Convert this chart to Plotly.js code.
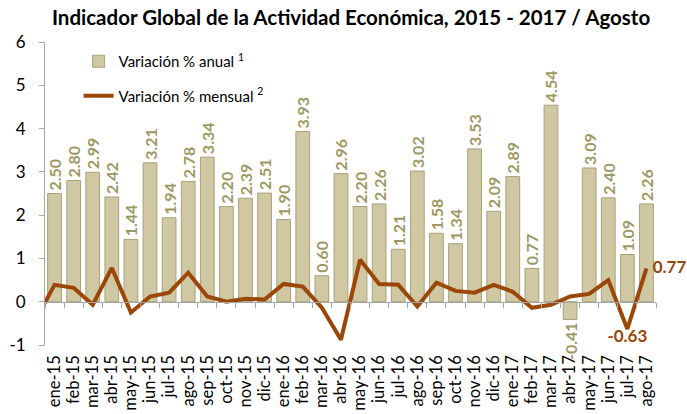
<!DOCTYPE html>
<html>
<head>
<meta charset="utf-8">
<script src="https://cdn.plot.ly/plotly-3.0.1.min.js"></script>
<style>html,body{margin:0;padding:0;background:#fff;}#chart{width:687px;height:414px;}</style>
</head>
<body>
<div id="chart"></div>
<script>
var months = ["ene-15","feb-15","mar-15","abr-15","may-15","jun-15","jul-15","ago-15","sep-15","oct-15","nov-15","dic-15",
              "ene-16","feb-16","mar-16","abr-16","may-16","jun-16","jul-16","ago-16","sep-16","oct-16","nov-16","dic-16",
              "ene-17","feb-17","mar-17","abr-17","may-17","jun-17","jul-17","ago-17"];
var anual = [2.50,2.80,2.99,2.42,1.44,3.21,1.94,2.78,3.34,2.20,2.39,2.51,
             1.90,3.93,0.60,2.96,2.20,2.26,1.21,3.02,1.58,1.34,3.53,2.09,
             2.89,0.77,4.54,-0.41,3.09,2.40,1.09,2.26];
// previous month (dic-14) value, only partially visible at the left edge
var mensualPrev = -0.43;
var mensual = [0.39,0.32,-0.07,0.78,-0.25,0.12,0.21,0.67,0.12,0.00,0.07,0.05,
               0.41,0.35,-0.14,-0.88,0.97,0.41,0.39,-0.11,0.44,0.25,0.21,0.39,
               0.23,-0.14,-0.07,0.12,0.18,0.50,-0.63,0.77];
var labeledMensual = ["jul-17","ago-17"];
var yTicks = [-1,0,1,2,3,4,5,6];
var yTickText = ["-1","0","1","2","3","4","5","6"];

var idx = months.map(function(m,i){return i;});
var lineX = [-1].concat(idx);
var lineY = [mensualPrev].concat(mensual);
var lineText = [""].concat(months.map(function(m,i){
  if (labeledMensual.indexOf(m) < 0) return "";
  return (m === "ago-17" ? "\u2009 " : "") + mensual[i].toFixed(2);
}));
var linePos = [""].concat(months.map(function(m,i){
  return m === "ago-17" ? "middle right" : "bottom center";
}));
var boundaries = [];
for (var k = 0; k <= months.length; k++) boundaries.push(k - 0.5);

var font = "Lato, 'Open Sans', sans-serif";

var traces = [
  {
    type: "bar", x: idx, y: anual, name: "Variación % anual <sup>1</sup>",
    marker: {color: "#cfc8a3", line: {color: "#a8a17a", width: 1}},
    width: 0.72,
    text: anual.map(function(v){return v.toFixed(2);}),
    textposition: "outside", textangle: -90, constraintext: "none", cliponaxis: false,
    textfont: {family: font, size: 16, color: "#9d9862", weight: "bold"},
    legendgroup: "a", hoverinfo: "skip"
  },
  {
    type: "scatter", mode: "lines+text", x: lineX, y: lineY, name: "Variación % mensual <sup>2</sup>",
    line: {color: "#9a4708", width: 4},
    text: lineText, textposition: linePos, cliponaxis: false,
    textfont: {family: font, size: 17, color: "#9a4708", weight: "bold"},
    legendgroup: "b", hoverinfo: "skip"
  }
];

var layout = {
  width: 687, height: 414,
  margin: {l: 45, r: 31, t: 42, b: 69},
  paper_bgcolor: "#fff", plot_bgcolor: "#fff",
  title: {text: "<b>Indicador Global de la Actividad Económica, 2015 - 2017 / Agosto</b>",
          font: {family: font, size: 20.5, color: "#000"}, x: 0.511, xanchor: "center", y: 0.975, yanchor: "top"},
  showlegend: true,
  legend: {x: 0.055, y: 0.99, xanchor: "left", yanchor: "top", bgcolor: "rgba(0,0,0,0)",
           font: {family: font, size: 15, color: "#000"}, traceorder: "grouped", tracegroupgap: 12},
  xaxis: {range: [-0.5, months.length - 0.5], tickmode: "array", tickvals: idx, ticktext: months,
          tickangle: -90, tickfont: {family: font, size: 16.5, color: "#000"}, ticklabelstandoff: 6,
          showline: false, ticks: "", showgrid: false, zeroline: false, fixedrange: true},
  xaxis2: {overlaying: "x", anchor: "free", position: 1/7, range: [-0.5, months.length - 0.5],
           tickmode: "array", tickvals: boundaries, showticklabels: false, ticks: "outside",
           ticklen: 5, tickcolor: "#a6a6a6", showline: true, linecolor: "#a6a6a6", linewidth: 1,
           showgrid: false, zeroline: false},
  yaxis: {range: [-1, 6], tickmode: "array", tickvals: yTicks, ticktext: yTickText, ticks: "outside", ticklen: 5,
          ticklabelstandoff: 10,
          tickcolor: "#a6a6a6", showline: true, linecolor: "#a6a6a6", linewidth: 1,
          showgrid: false, zeroline: false, tickfont: {family: font, size: 17, color: "#000"}},
  bargap: 0.28
};
// dummy trace to show xaxis2
traces.push({type: "scatter", x: [0], y: [0], xaxis: "x2", mode: "markers",
             marker: {opacity: 0}, showlegend: false, hoverinfo: "skip"});

Plotly.newPlot("chart", traces, layout, {displayModeBar: false, staticPlot: true});
</script>
</body>
</html>
